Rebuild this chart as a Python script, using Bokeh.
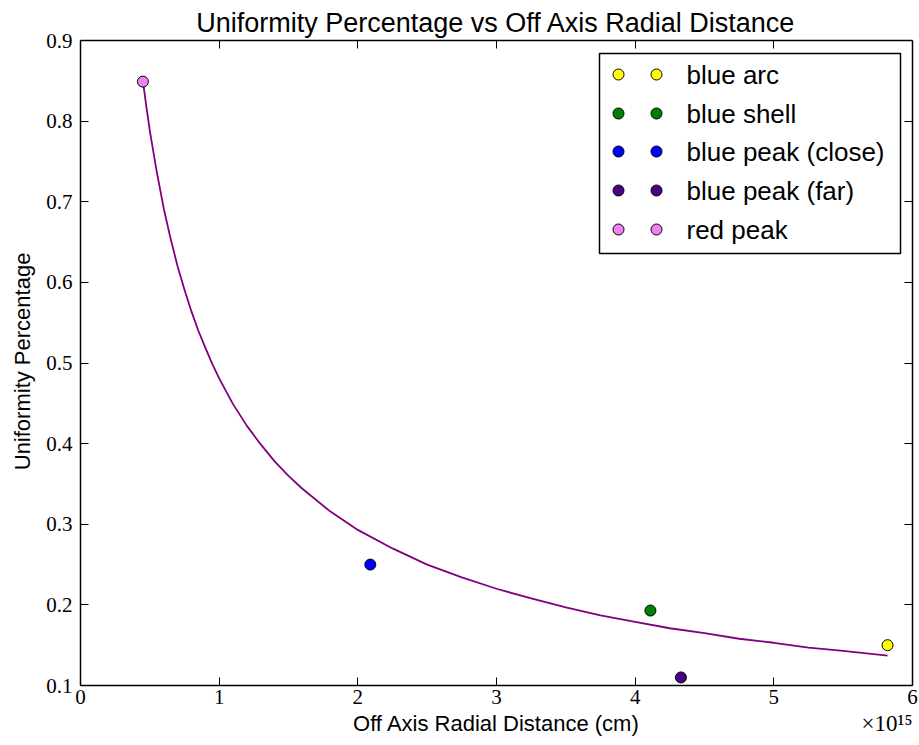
from bokeh.plotting import figure
from bokeh.models import (LinearAxis, Range1d, FixedTicker, PrintfTickFormatter,
                          CustomJSTickFormatter, Label)
from bokeh.embed import file_html
from bokeh.resources import INLINE
from bokeh.core.properties import value

# ---------------- data ----------------
series_names = ["blue arc", "blue shell", "blue peak (close)", "blue peak (far)", "red peak"]
series_colors = ["#FFFF00", "#008000", "#0000FF", "#4B0082", "#EE82EE"]
dist_cm = [5.82e15, 4.11e15, 2.09e15, 4.33e15, 0.45e15]
uniformity = [0.150, 0.193, 0.250, 0.110, 0.849]

# fitted curve
fit_dist_cm = [0.45e15, 0.475e15, 0.5e15, 0.55e15, 0.6e15, 0.65e15, 0.7e15, 0.75e15, 0.8e15,
               0.85e15, 0.9e15, 0.95e15, 1.0e15, 1.1e15, 1.2e15, 1.3e15, 1.4e15, 1.5e15,
               1.6e15, 1.8e15, 2.0e15, 2.25e15, 2.5e15, 2.75e15, 3.0e15, 3.25e15, 3.5e15,
               3.75e15, 4.0e15, 4.25e15, 4.5e15, 4.75e15, 5.0e15, 5.25e15, 5.5e15, 5.82e15]
fit_uniformity = [0.850, 0.818, 0.788, 0.737, 0.692, 0.654, 0.620, 0.591, 0.564,
                  0.540, 0.519, 0.499, 0.481, 0.449, 0.422, 0.399, 0.378, 0.360,
                  0.344, 0.316, 0.293, 0.270, 0.250, 0.234, 0.220, 0.208, 0.197,
                  0.187, 0.179, 0.171, 0.165, 0.158, 0.153, 0.147, 0.143, 0.137]

x_ticks = [0, 1e15, 2e15, 3e15, 4e15, 5e15, 6e15]
y_ticks = [0.1, 0.2, 0.3, 0.4, 0.5, 0.6, 0.7, 0.8, 0.9]
X_MIN, X_MAX = 0, 6e15
Y_MIN, Y_MAX = 0.1, 0.9

SANS = "Liberation Sans"
SERIF = "Liberation Serif"

# ---------------- layout (pixels) ----------------
FW, FH = 832, 645                 # axes box
L_EXT, R_EXT, B_EXT = 8, 7, 58    # frame margins around the axes box (room for x labels)
px_x = FW / (X_MAX - X_MIN)
px_y = FH / (Y_MAX - Y_MIN)

p = figure(frame_width=FW + L_EXT + R_EXT, frame_height=FH + B_EXT,
           x_range=Range1d(X_MIN - L_EXT / px_x, X_MAX + R_EXT / px_x),
           y_range=Range1d(Y_MIN - B_EXT / px_y, Y_MAX),
           output_backend="svg", toolbar_location=None,
           min_border_left=72, min_border_top=40, min_border_bottom=2, min_border_right=0,
           title="Uniformity Percentage vs Off Axis Radial Distance")
p.outline_line_color = None
p.grid.visible = False
p.background_fill_color = "white"
p.border_fill_color = "white"

p.title.text_font = SANS
p.title.text_font_size = "27px"
p.title.text_font_style = "normal"
p.title.align = "center"
p.title.text_color = "black"
p.title.standoff = 5

def style_axis(ax, labels=True, line=True):
    ax.axis_line_color = "black" if line else None
    ax.axis_line_width = 1.5
    ax.major_tick_line_color = "black" if line else None
    ax.major_tick_line_width = 1
    ax.major_tick_in = 8 if line else 0
    ax.major_tick_out = 0
    ax.minor_tick_line_color = None
    if not labels:
        ax.major_label_text_font_size = "0px"
        ax.major_label_standoff = 0
        ax.formatter = CustomJSTickFormatter(code="return ''")
    else:
        ax.major_label_text_font = SERIF
        ax.major_label_text_font_size = "21px"
        ax.major_label_text_color = "black"
        ax.axis_label_text_font = SANS
        ax.axis_label_text_font_size = "22px"
        ax.axis_label_text_font_style = "normal"
        ax.axis_label_text_color = "black"

# bottom axis: line, ticks, labels, title
xax = p.xaxis[0]
xax.ticker = FixedTicker(ticks=x_ticks)
xax.formatter = CustomJSTickFormatter(code="return (tick/1e15).toFixed(0)")
xax.axis_label = "Off Axis Radial Distance (cm)"
xax.fixed_location = Y_MIN
xax.bounds = (X_MIN, X_MAX)
style_axis(xax)
xax.major_label_standoff = 4
xax.axis_label_standoff = 4

# left axis: tick labels and title (the line is drawn by a second axis at X_MIN)
yax = p.yaxis[0]
yax.ticker = FixedTicker(ticks=y_ticks)
yax.formatter = PrintfTickFormatter(format="%.1f")
yax.axis_label = "\u00a0" * 10 + "Uniformity Percentage"
style_axis(yax, line=False)
yax.major_label_standoff = 0
yax.axis_label_standoff = 8

left_line = LinearAxis(ticker=FixedTicker(ticks=y_ticks), fixed_location=X_MIN,
                       bounds=(Y_MIN, Y_MAX))
style_axis(left_line, labels=False)
p.add_layout(left_line, "left")

top_ax = LinearAxis(ticker=FixedTicker(ticks=x_ticks), bounds=(X_MIN, X_MAX))
style_axis(top_ax, labels=False)
p.add_layout(top_ax, "above")

right_ax = LinearAxis(ticker=FixedTicker(ticks=y_ticks), fixed_location=X_MAX,
                      bounds=(Y_MIN, Y_MAX))
style_axis(right_ax, labels=False)
p.add_layout(right_ax, "right")

# fitted curve and points
p.line(fit_dist_cm, fit_uniformity, line_color="#800080", line_width=1.8, line_join="round")
for name, col, xv, yv in zip(series_names, series_colors, dist_cm, uniformity):
    p.scatter([xv], [yv], size=11, fill_color=col, line_color="black", line_width=1)

# axis offset text
p.add_layout(Label(x=X_MAX, y=Y_MIN, text="×10¹⁵", text_align="right", text_baseline="bottom",
                   y_offset=-50, text_font=SERIF, text_font_size="23px", text_color="black"))

# ---------------- legend (pixel frame of the axes box) ----------------
p.extra_x_ranges = {"lx": Range1d(-L_EXT, FW + R_EXT)}
p.extra_y_ranges = {"ly": Range1d(-B_EXT, FH)}
leg_left, leg_right, leg_bottom, leg_top = 519, 820, 432, 632
row_y = [611, 572, 534, 495, 456]
p.quad(left=[leg_left], right=[leg_right], bottom=[leg_bottom], top=[leg_top],
       fill_color="white", line_color="black", line_width=1.5,
       x_range_name="lx", y_range_name="ly")
for name, col, ry in zip(series_names, series_colors, row_y):
    p.scatter([538, 576], [ry, ry], size=11, fill_color=col, line_color="black", line_width=1,
              x_range_name="lx", y_range_name="ly")
p.text(x=[606] * len(series_names), y=row_y, text=series_names,
       text_font=value(SANS), text_font_size="26px", text_baseline="middle",
       text_color="black", x_range_name="lx", y_range_name="ly")

open("out.html", "w").write(file_html(p, INLINE))
